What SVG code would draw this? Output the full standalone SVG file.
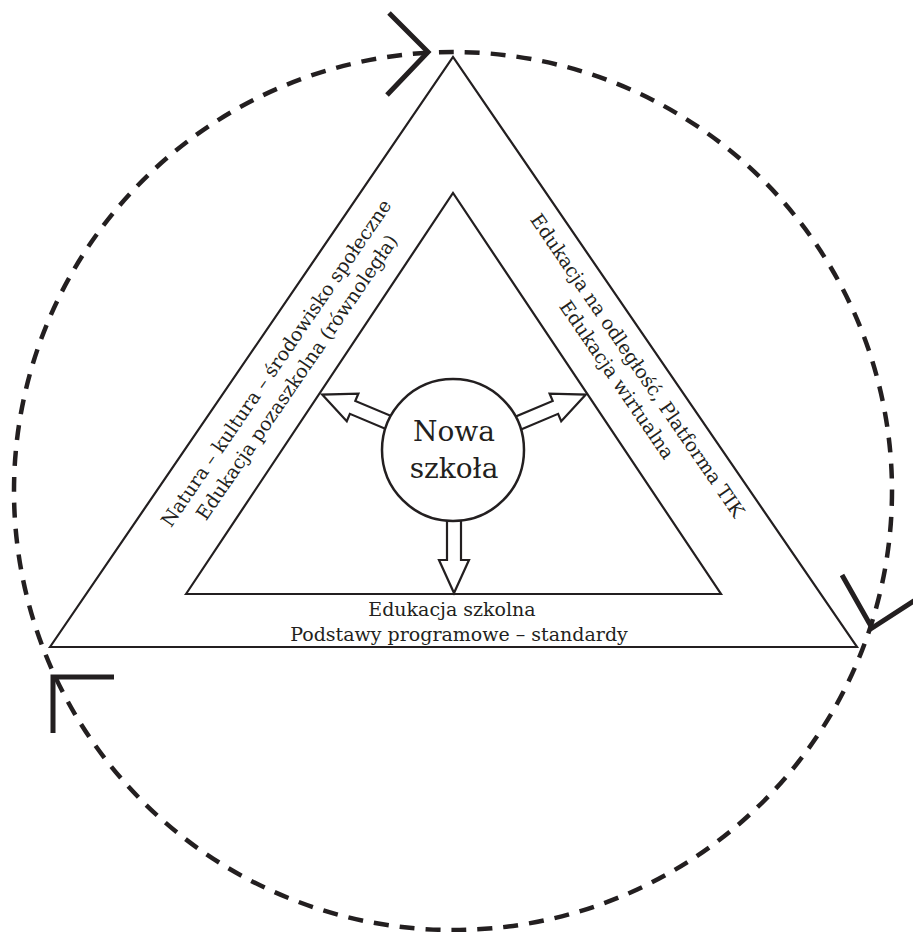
<svg xmlns="http://www.w3.org/2000/svg" width="913" height="932" viewBox="0 0 913 932">
<style>
.tri{fill:none;stroke:#231f20;stroke-width:2.2;stroke-linejoin:miter}
.ring{fill:none;stroke:#231f20;stroke-width:4.5;stroke-dasharray:15 11}
.chev{fill:none;stroke:#231f20;stroke-width:5;stroke-linecap:butt;stroke-linejoin:miter}
.barrow{fill:#fff;stroke:#231f20;stroke-width:2.2;stroke-linejoin:miter}
.t{font-family:"DejaVu Serif","Liberation Serif",serif;font-size:19px;fill:#231f20;text-anchor:middle}
.big{font-family:"DejaVu Serif","Liberation Serif",serif;font-size:28px;fill:#231f20;text-anchor:middle}
</style>
<defs>
<path id="ba" d="M60,-7 L110,-7 L110,-15 L143,0 L110,15 L110,7 L60,7 Z"/>
</defs>
<rect width="913" height="932" fill="#fff"/>
<g id="cycle">
<circle class="ring" cx="453" cy="491" r="439"/>
<path class="chev" d="M389,13 L428,52 L387,95"/>
<path class="chev" d="M842,575 L872,628 L923,595"/>
<path class="chev" d="M53,733 L53,677 L114,677"/>
</g>
<g id="outer-triangle">
<polygon class="tri" points="50,647 453,57 857,647"/>
</g>
<g id="inner-triangle">
<polygon class="tri" points="186,594 453,193 721,594"/>
</g>
<g id="connectors">
<use href="#ba" class="barrow" transform="translate(454,450) rotate(90)"/>
<use href="#ba" class="barrow" transform="translate(454,450) rotate(202.8)"/>
<use href="#ba" class="barrow" transform="translate(454,450) rotate(-22.8)"/>
</g>
<g id="nowa-szkola">
<circle cx="453" cy="450" r="71" fill="#fff" stroke="#231f20" stroke-width="2.5"/>
<text class="big" x="454" y="441">Nowa</text>
<text class="big" x="454" y="478">szkoła</text>
</g>
<g id="left-band">
<text class="t" transform="translate(281.6,366.8) rotate(-55.6)">Natura – kultura – środowisko społeczne</text>
<text class="t" transform="translate(302.3,381) rotate(-55.6)">Edukacja pozaszkolna (równoległa)</text>
</g>
<g id="right-band">
<text class="t" transform="translate(632.1,369.3) rotate(55.6)">Edukacja na odległość, Platforma TIK</text>
<text class="t" transform="translate(611.5,383.4) rotate(55.6)">Edukacja wirtualna</text>
</g>
<g id="bottom-band">
<text class="t" x="452" y="616">Edukacja szkolna</text>
<text class="t" x="459" y="641">Podstawy programowe – standardy</text>
</g>
</svg>
